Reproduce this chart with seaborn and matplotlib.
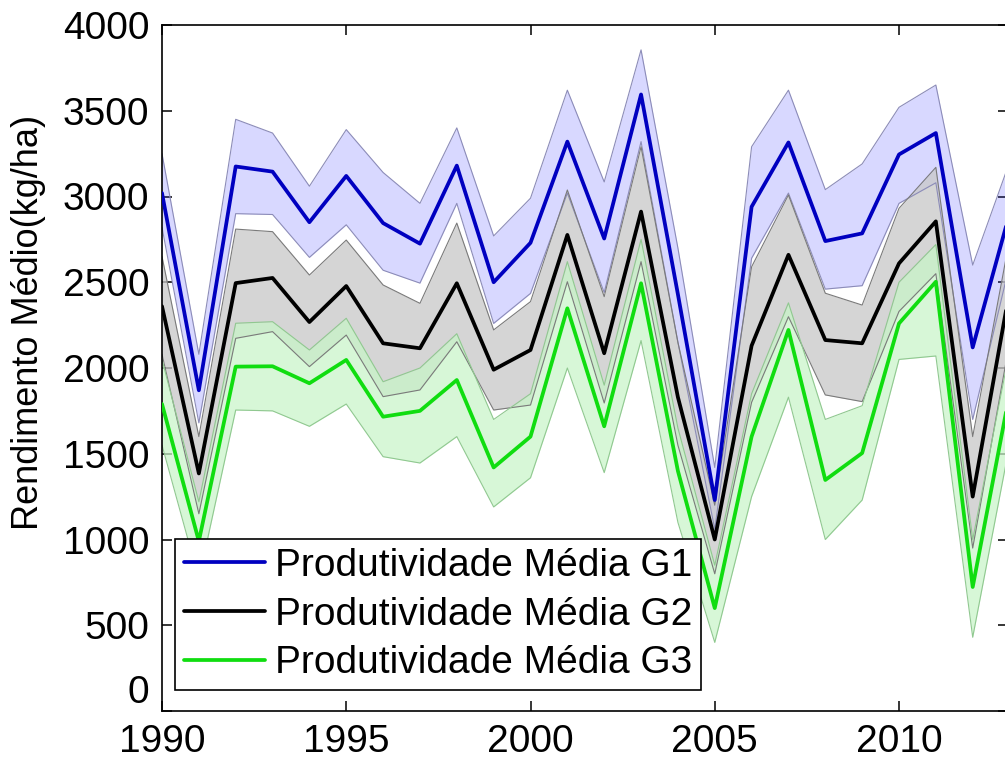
import matplotlib
matplotlib.use('Agg')
import matplotlib.pyplot as plt
import seaborn as sns

years = list(range(1990, 2014))

g1_mean = [3020, 1870, 3175, 3145, 2850, 3120, 2845, 2725, 3180, 2500, 2730, 3320,
           2755, 3595, 2430, 1230, 2940, 3315, 2740, 2785, 3245, 3370, 2120, 2900]
g1_upper = [3250, 2080, 3450, 3370, 3060, 3390, 3140, 2960, 3400, 2770, 2990, 3620,
            3085, 3855, 2700, 1420, 3290, 3620, 3040, 3190, 3520, 3650, 2600, 3200]
g1_lower = [2820, 1680, 2900, 2895, 2645, 2835, 2570, 2495, 2960, 2260, 2435, 3020,
            2440, 3320, 2150, 1060, 2640, 3020, 2460, 2480, 2960, 3080, 1700, 2600]

g2_mean = [2360, 1385, 2495, 2525, 2268, 2478, 2144, 2115, 2494, 1990, 2105, 2776,
           2086, 2912, 1830, 1000, 2130, 2660, 2163, 2144, 2610, 2855, 1250, 2450]
g2_upper = [2650, 1600, 2810, 2795, 2542, 2746, 2484, 2377, 2845, 2222, 2387, 3038,
            2416, 3290, 2150, 1200, 2590, 3009, 2436, 2367, 2931, 3170, 1600, 2750]
g2_lower = [2080, 1150, 2173, 2212, 2008, 2192, 1833, 1872, 2153, 1755, 1784, 2503,
            1796, 2620, 1550, 800, 1800, 2299, 1843, 1804, 2330, 2550, 950, 2150]

g3_mean = [1790, 990, 2008, 2010, 1911, 2047, 1716, 1750, 1930, 1420, 1600, 2348,
           1660, 2494, 1400, 600, 1600, 2222, 1347, 1504, 2260, 2503, 723, 1850]
g3_upper = [2050, 1220, 2261, 2270, 2105, 2290, 1920, 2000, 2200, 1700, 1850, 2620,
            1900, 2750, 1650, 850, 1850, 2380, 1700, 1780, 2500, 2720, 1000, 2100]
g3_lower = [1550, 770, 1755, 1750, 1660, 1790, 1483, 1446, 1600, 1190, 1360, 2000,
            1390, 2160, 1100, 400, 1250, 1830, 1000, 1230, 2050, 2070, 430, 1550]

labels = ['Produtividade Média G1', 'Produtividade Média G2', 'Produtividade Média G3']
y_ticks = [0, 500, 1000, 1500, 2000, 2500, 3000, 3500, 4000]
x_ticks = [1990, 1995, 2000, 2005, 2010]

sns.set_style('ticks')
plt.rcParams['font.family'] = ['Liberation Sans', 'DejaVu Sans']
plt.rcParams['text.color'] = 'black'
plt.rcParams['axes.labelcolor'] = 'black'
plt.rcParams['xtick.color'] = 'black'
plt.rcParams['ytick.color'] = 'black'

FS = 28
fig = plt.figure(figsize=(10.05, 7.6), dpi=100)
ax = fig.add_axes([162 / 1005, 49 / 760, 846 / 1005, 686 / 760])

bands = [
    (g1_lower, g1_upper, '#3c3cff', 0.20, '#8c8cb8'),
    (g2_lower, g2_upper, '#c8c8c8', 0.75, '#7a7a7a'),
    (g3_lower, g3_upper, '#c8f5c8', 0.72, '#90c890'),
]
for lo, hi, fc, a, ec in bands:
    ax.fill_between(years, lo, hi, color=fc, alpha=a, linewidth=0, zorder=1)
for lo, hi, fc, a, ec in bands:
    sns.lineplot(x=years, y=lo, color=ec, linewidth=0.8, ax=ax, legend=False, zorder=2)
    sns.lineplot(x=years, y=hi, color=ec, linewidth=0.8, ax=ax, legend=False, zorder=2)

means = [g1_mean, g2_mean, g3_mean]
colors = ['#0000c0', '#000000', '#10dd10']
handles = []
for m, c, lab in zip(means, colors, labels):
    sns.lineplot(x=years, y=m, color=c, linewidth=2.7, ax=ax, zorder=3)
    handles.append(ax.lines[-1])

ax.set_xlim(1990, 1990 + 846 / 36.85)
ax.set_ylim(0, 4000)
ax.set_xticks(x_ticks)
ax.set_yticks(y_ticks)
ax.set_xticklabels([str(t) for t in x_ticks])
ax.set_yticklabels([str(t) for t in y_ticks])
ax.tick_params(direction='in', length=7, width=1.1, top=True, right=True,
               labelsize=FS, pad=9, colors='black')
for s in ax.spines.values():
    s.set_visible(True)
    s.set_color('black')
    s.set_linewidth(1.2)
for lab in ax.get_yticklabels():
    if lab.get_text() == '0':
        lab.set_verticalalignment('bottom')

ax.set_xlabel('')
ax.set_ylabel('Rendimento Médio(kg/ha)', fontsize=26)
ax.yaxis.set_label_coords((46 - 162) / 846, 0.566)

leg = ax.legend(handles=handles, labels=labels, loc='lower left',
                bbox_to_anchor=(13 / 846, 21 / 686), borderaxespad=0,
                fontsize=FS, frameon=True, fancybox=False, framealpha=1,
                edgecolor='black', handlelength=2.1, handletextpad=0.25,
                labelspacing=0.33, borderpad=0.22)
leg.get_frame().set_linewidth(1.2)
leg.set_zorder(10)

fig.savefig('out.png', dpi=100)
